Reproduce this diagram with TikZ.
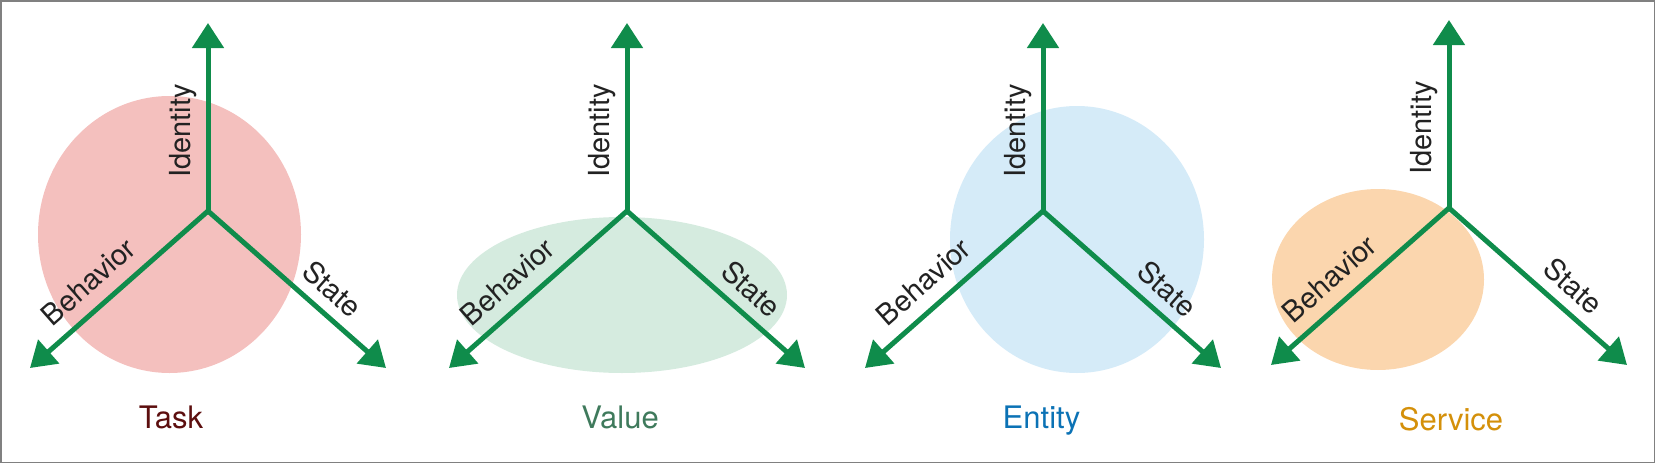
\documentclass[tikz,border=0pt]{standalone}
\usepackage{fontspec}
\setmainfont{TeX Gyre Heros}
\usetikzlibrary{arrows.meta,shapes.geometric}
\definecolor{axisgreen}{HTML}{0F8C4B}
\definecolor{fillTask}{HTML}{F4C0BE}
\definecolor{fillValue}{HTML}{D5EBDF}
\definecolor{fillEntity}{HTML}{D5EBF8}
\definecolor{fillService}{HTML}{FBD6AE}
\definecolor{txtTask}{HTML}{5C0E0E}
\definecolor{txtValue}{HTML}{3F7A5C}
\definecolor{txtEntity}{HTML}{0B72B5}
\definecolor{txtService}{HTML}{D4900A}
\definecolor{axislabel}{HTML}{222222}
\definecolor{framegray}{HTML}{808080}
\begin{document}
\begin{tikzpicture}[x=1pt,y=-1pt,
  axisarrow/.style={draw=axisgreen, line width=5pt, line cap=round, -{Triangle[width=31pt,length=25pt]}},
  axislbl/.style={text=axislabel, font=\fontsize{29}{34}\selectfont, inner sep=0pt, sloped, anchor=base},
  blob/.style={ellipse, inner sep=0pt, draw=none},
  kind/.style={font=\fontsize{31}{36}\selectfont, anchor=base, inner sep=0pt}]
\useasboundingbox (0,0) rectangle (1655,463);
\draw[framegray, line width=1.5pt] (0.75,0.75) rectangle (1654.25,462.25);
\foreach \n/\ox/\oy/\ecx/\ecy/\ew/\eh/\nm/\lx/\ly in {
  1/208/211/169.5/234.5/263/277/Task/171/428,
  2/627/211/622/295/330/156/Value/620/428,
  3/1043/211/1077/239.5/254/267/Entity/1041.5/428,
  4/1449/208/1378/279.5/212/181/Service/1451/430}
{
  \node[blob, fill=fill\nm, minimum width=\ew pt, minimum height=\eh pt] (e\n) at (\ecx,\ecy) {};
  \coordinate (o\n) at (\ox,\oy);
  \coordinate (i\n) at (\ox,\oy-188);
  \coordinate (b\n) at (\ox-178,\oy+157);
  \coordinate (s\n) at (\ox+178,\oy+157);
  \draw[axisarrow] (o\n) -- (i\n);
  \draw[axisarrow] (o\n) -- (b\n);
  \draw[axisarrow] (o\n) -- (s\n);
  \path (o\n) -- node[axislbl, pos=0.426, yshift=18pt] (li\n) {Identity} (i\n);
  \path (o\n) -- node[axislbl, pos=0.574, yshift=15.7pt] (lb\n) {Behavior} (b\n);
  \path (o\n) -- node[axislbl, pos=0.61, yshift=13pt] (ls\n) {State} (s\n);
  \node[kind, text=txt\nm] (k\n) at (\lx,\ly) {\nm};
}
\end{tikzpicture}
\end{document}
